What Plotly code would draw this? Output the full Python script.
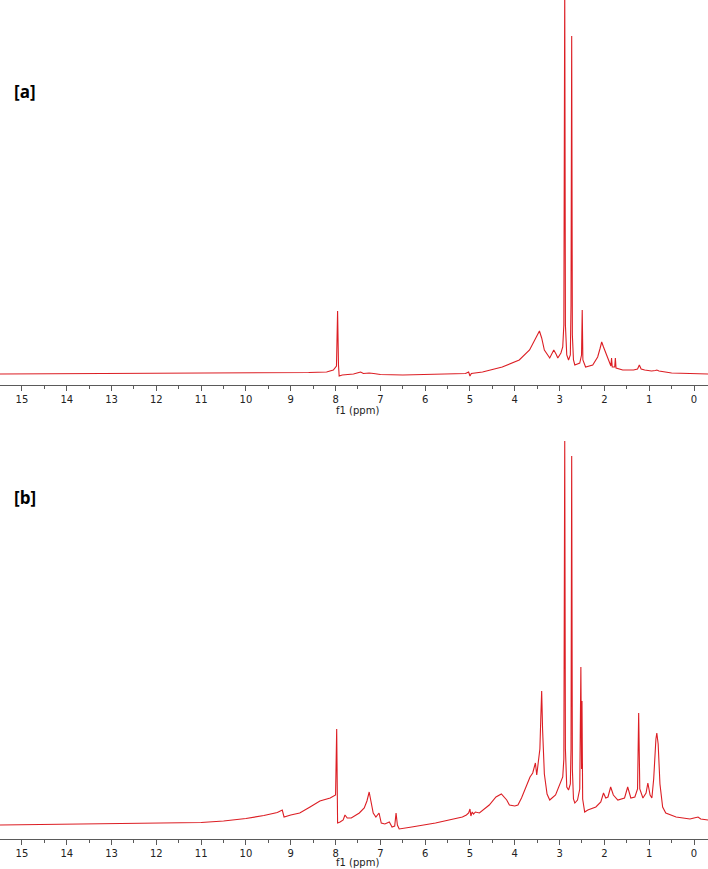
import plotly.graph_objects as go

# ---------------- data ----------------
# Spectrum [a]: chemical shift (ppm) and intensity (a.u.)
ppm_a = [15.49, 13.0, 11.0, 9.5, 8.6, 8.2, 8.05, 7.98, 7.955, 7.935, 7.92, 7.85, 7.6, 7.48, 7.44,
         7.38, 7.25, 7.15, 7.0, 6.5, 6.0, 5.5, 5.1, 5.03, 5.0, 4.97, 4.72, 4.28, 3.9, 3.67,
         3.56, 3.5, 3.45, 3.4, 3.34, 3.22, 3.17, 3.13, 3.08, 3.04, 2.97, 2.93, 2.905, 2.885, 2.87,
         2.84, 2.8, 2.76, 2.745, 2.73, 2.715, 2.69, 2.66, 2.58, 2.55, 2.51, 2.495, 2.48, 2.42, 2.26,
         2.15, 2.1, 2.06, 2.02, 1.97, 1.88, 1.855, 1.84, 1.825, 1.77, 1.755, 1.74, 1.59, 1.35, 1.26,
         1.22, 1.18, 1.1, 0.95, 0.86, 0.83, 0.78, 0.5, -0.32]
int_a = [11, 11.5, 11.5, 12, 12.5, 13, 15, 19, 74, 20, 9, 10, 11, 12.5, 13,
         11.5, 12, 11.5, 10.5, 10, 10.5, 11, 11.5, 13, 9, 11.5, 13, 18, 25, 35,
         45, 51, 54, 47, 35, 27, 31, 35, 31, 27, 32, 38, 60, 400, 60,
         30, 25, 30, 80, 349, 50, 25, 20, 21, 22, 30, 75, 25, 18, 20,
         28, 36, 43, 38, 32, 22, 19, 27, 18, 18, 27, 17, 15, 15, 16,
         20, 16, 15, 14, 14.5, 15, 14, 12, 11]

# Spectrum [b]
ppm_b = [15.49, 13.0, 12.0, 11.0, 10.5, 10.0, 9.6, 9.3, 9.19, 9.15, 9.0, 8.8, 8.57, 8.35, 8.12,
         8.0, 7.975, 7.955, 7.9, 7.83, 7.79, 7.74, 7.65, 7.47, 7.36, 7.3, 7.25, 7.21, 7.16, 7.1,
         7.03, 6.98, 6.9, 6.8, 6.74, 6.68, 6.65, 6.62, 6.58, 6.3, 5.77, 5.17, 5.08, 5.03, 5.0,
         4.98, 4.95, 4.92, 4.88, 4.79, 4.57, 4.42, 4.3, 4.18, 4.12, 4.0, 3.93, 3.85, 3.76, 3.66,
         3.6, 3.56, 3.54, 3.51, 3.48, 3.44, 3.42, 3.40, 3.38, 3.34, 3.28, 3.22, 3.09, 2.98, 2.93,
         2.905, 2.885, 2.87, 2.84, 2.8, 2.76, 2.745, 2.73, 2.715, 2.69, 2.66, 2.6, 2.55, 2.525, 2.51,
         2.5, 2.485, 2.44, 2.37, 2.19, 2.08, 2.02, 1.97, 1.92, 1.86, 1.8, 1.7, 1.55, 1.48, 1.41,
         1.32, 1.26, 1.235, 1.21, 1.14, 1.07, 1.03, 0.98, 0.94, 0.9, 0.85, 0.83, 0.8, 0.76, 0.7,
         0.63, 0.4, 0.09, 0.0, -0.09, -0.15, -0.32]
int_b = [14, 15, 15.5, 16.5, 18, 20.5, 23.5, 26.5, 29, 22, 24, 26, 32, 38, 41,
         44, 110, 16, 17, 19, 24, 21, 21, 26, 31, 38, 47, 38, 26, 22,
         26, 16, 15, 17, 12, 13, 26, 14, 10, 12, 16, 22, 24, 26, 30,
         23, 27, 25, 27, 26, 34, 42, 45, 39, 34, 33, 34, 41, 51, 62,
         66, 72, 76, 64, 74, 90, 120, 148, 110, 65, 45, 39, 44, 57, 62,
         80, 398, 90, 52, 49, 55, 90, 383, 70, 40, 36, 39, 50, 172, 70,
         138, 40, 27, 29, 32, 37, 46, 41, 42, 52, 44, 39, 41, 52, 41,
         42, 50, 126, 50, 41, 46, 56, 44, 41, 60, 100, 106, 95, 55, 32,
         26, 22, 20, 21, 22, 20, 19]

tick_vals = list(range(0, 16))
tick_text = [str(v) for v in tick_vals]
panel_labels = ["[a]", "[b]"]
axis_title = "f1 (ppm)"

# ---------------- figure ----------------
W, H = 708, 869
RED = "#dc1e24"
AX = "#5a5a5a"

def frac(px):
    return (H - px) / H

fig = go.Figure()
fig.add_trace(go.Scatter(x=ppm_a, y=int_a, mode="lines", line=dict(color=RED, width=1.1),
                         xaxis="x", yaxis="y", showlegend=False, hoverinfo="skip"))
fig.add_trace(go.Scatter(x=ppm_b, y=int_b, mode="lines", line=dict(color=RED, width=1.1),
                         xaxis="x2", yaxis="y2", showlegend=False, hoverinfo="skip"))

xcommon = dict(range=[15.49, -0.3125], showline=True, linecolor=AX, linewidth=1,
               ticks="outside", ticklen=5, tickcolor=AX, tickwidth=1,
               tickvals=tick_vals, ticktext=tick_text, showgrid=False, zeroline=False,
               tickfont=dict(family="DejaVu Sans", size=10, color="#222"),
               minor=dict(ticks="outside", ticklen=3, tickcolor=AX, dtick=0.5, tick0=0, showgrid=False),
               fixedrange=True)

fig.update_layout(
    width=W, height=H,
    margin=dict(l=0, r=0, t=0, b=0),
    paper_bgcolor="white", plot_bgcolor="white",
    xaxis=dict(**xcommon, anchor="y", domain=[0, 1]),
    xaxis2=dict(**xcommon, anchor="y2", domain=[0, 1]),
    yaxis=dict(domain=[frac(385), 1.0], range=[0, 385], visible=False, fixedrange=True),
    yaxis2=dict(domain=[frac(839), frac(430)], range=[0, 409], visible=False, fixedrange=True),
)

annotations = [
    dict(text="<b>" + panel_labels[0] + "</b>", x=12 / W, y=frac(92), xref="paper", yref="paper",
         xanchor="left", yanchor="middle", showarrow=False,
         font=dict(family="Open Sans", size=17, color="black")),
    dict(text="<b>" + panel_labels[1] + "</b>", x=12 / W, y=frac(497), xref="paper", yref="paper",
         xanchor="left", yanchor="middle", showarrow=False,
         font=dict(family="Open Sans", size=17, color="black")),
    dict(text=axis_title, x=7.5, y=frac(411), xref="x", yref="paper",
         xanchor="center", yanchor="middle", showarrow=False,
         font=dict(family="DejaVu Sans", size=10, color="#222")),
    dict(text=axis_title, x=7.5, y=frac(862), xref="x2", yref="paper",
         xanchor="center", yanchor="middle", showarrow=False,
         font=dict(family="DejaVu Sans", size=10, color="#222")),
]
fig.update_layout(annotations=annotations)

fig.write_html("out.html", config={"displayModeBar": False},
               post_script="document.body.style.margin='0px';")
